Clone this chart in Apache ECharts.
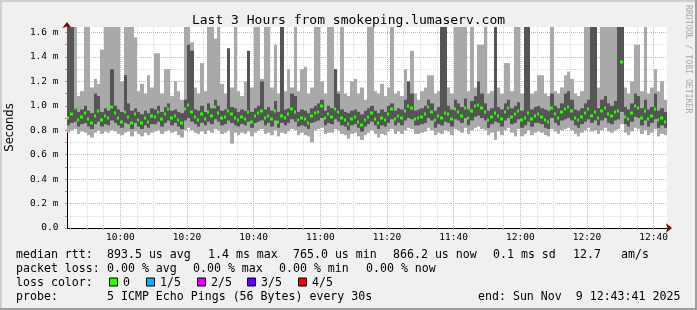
<!DOCTYPE html>
<html><head><meta charset="utf-8">
<script src="https://cdn.jsdelivr.net/npm/echarts@6/dist/echarts.min.js"></script>
<style>html,body{margin:0;padding:0;background:#f0f0f0}#c{width:697px;height:310px}</style>
</head><body><div id="c"></div>
<script>
// time axis in minutes of day: 584 = 09:44, 764 = 12:44 ; one slot per minute
const startMinute = 584;
const endMinute = 764;
const xLabelMinutes = [600, 620, 640, 660, 680, 700, 720, 740, 760];
const xTickMinutes = [585,590,595,600,605,610,615,620,625,630,635,640,645,650,655,660,665,670,675,680,685,690,695,700,705,710,715,720,725,730,735,740,745,750,755,760];
const yTicks = ['0.0','0.2 m','0.4 m','0.6 m','0.8 m','1.0 m','1.2 m','1.4 m','1.6 m'];

// ping smoke per minute (ms): max, upper, median, lower, min
const pingMax = [
1.70,1.70,1.70,1.08,1.12,1.70,1.70,1.15,1.22,1.18,
1.46,1.70,1.70,1.70,1.70,1.70,1.20,1.70,1.70,1.70,
1.56,1.12,1.18,1.10,1.25,1.15,1.43,1.43,1.10,1.30,
1.30,1.08,1.20,1.12,1.05,1.70,1.70,1.52,1.15,1.10,
1.35,1.12,1.70,1.70,1.55,1.70,1.18,1.10,1.47,1.15,
1.70,1.12,1.08,1.20,1.45,1.15,1.70,1.70,1.22,1.70,
1.70,1.15,1.50,1.10,1.70,1.12,1.30,1.15,1.70,1.12,
1.30,1.32,1.10,1.15,1.70,1.70,1.20,1.10,1.70,1.70,
1.30,1.12,1.70,1.10,1.08,1.20,1.22,1.10,1.15,1.05,
1.70,1.70,1.12,1.10,1.18,1.08,1.15,1.70,1.10,1.12,
1.08,1.30,1.12,1.45,1.10,1.05,1.12,1.15,1.25,1.25,
1.10,1.12,1.70,1.70,1.15,1.10,1.70,1.70,1.70,1.70,
1.12,1.70,1.15,1.50,1.50,1.70,1.10,1.12,1.70,1.15,
1.10,1.35,1.35,1.12,1.70,1.70,1.10,1.70,1.70,1.10,
1.12,1.25,1.25,1.10,1.08,1.70,1.12,1.10,1.15,1.25,
1.28,1.22,1.10,1.08,1.12,1.70,1.70,1.70,1.70,1.15,
1.70,1.70,1.70,1.70,1.70,1.70,1.70,1.15,1.10,1.20,
1.50,1.50,1.12,1.70,1.10,1.15,1.30,1.12,1.20,1.05];
const pingUpper = [
1.70,1.70,0.98,0.95,0.97,1.00,0.96,0.94,1.10,1.08,
0.95,0.98,0.96,1.30,1.00,0.97,0.95,1.25,1.02,0.96,
0.98,0.95,0.93,0.96,0.94,0.98,0.97,1.00,0.95,0.99,
1.02,0.96,0.97,0.95,0.94,1.05,1.50,1.45,0.97,0.96,
1.00,0.95,1.02,0.98,1.05,1.00,0.96,0.97,1.47,0.99,
0.98,0.95,0.97,0.96,1.45,0.95,0.98,1.00,1.20,0.97,
0.99,0.96,1.04,0.95,1.70,0.97,0.98,1.10,1.08,0.95,
0.97,0.96,0.94,0.98,1.00,1.02,1.05,0.96,1.00,0.98,
1.30,1.10,0.97,0.95,0.94,0.96,0.97,0.95,0.93,0.96,
0.98,1.00,0.96,0.94,0.97,0.95,1.00,1.02,0.96,0.98,
0.97,1.05,1.20,1.10,0.96,0.97,0.98,1.00,1.05,1.02,
0.96,0.99,1.70,1.70,1.00,0.97,1.05,1.02,0.99,1.06,
0.97,1.04,1.08,1.20,1.10,1.02,0.96,0.98,1.70,0.99,
0.97,1.02,1.05,0.98,1.00,1.03,0.96,1.70,1.70,0.97,
0.99,1.00,0.98,0.97,0.96,1.10,1.00,0.98,1.02,1.10,
1.12,1.05,0.97,0.96,0.98,1.02,1.05,1.70,1.70,0.98,
1.05,1.08,1.02,1.00,1.04,1.70,1.70,0.99,0.97,1.02,
1.10,1.08,0.98,1.05,0.97,0.99,1.10,0.96,0.98,0.95];
const pingMedian = [
0.90,0.93,0.98,0.88,0.91,0.94,0.89,0.86,0.92,0.96,
0.88,0.92,0.90,0.99,0.94,0.90,0.87,0.95,0.91,0.86,
0.93,0.88,0.86,0.90,0.87,0.92,0.91,0.95,0.89,0.93,
0.97,0.90,0.92,0.88,0.86,0.97,1.01,0.95,0.91,0.88,
0.93,0.89,0.95,0.92,0.99,0.94,0.90,0.91,0.96,0.93,
0.90,0.88,0.91,0.89,0.95,0.87,0.92,0.94,0.96,0.90,
0.92,0.89,0.96,0.87,0.92,0.90,0.93,0.97,0.95,0.88,
0.90,0.89,0.86,0.92,0.94,0.95,1.00,0.90,0.93,0.91,
0.97,0.95,0.90,0.88,0.85,0.89,0.91,0.87,0.84,0.88,
0.91,0.94,0.89,0.86,0.90,0.88,0.93,0.97,0.89,0.92,
0.90,0.96,1.00,0.98,0.89,0.90,0.91,0.93,0.99,0.95,
0.88,0.92,0.90,0.94,0.93,0.89,0.97,0.95,0.92,0.98,
0.90,0.96,1.00,1.01,0.98,0.95,0.88,0.91,0.94,0.92,
0.89,0.95,0.98,0.91,0.93,0.96,0.88,0.90,0.94,0.89,
0.92,0.93,0.91,0.88,0.87,0.98,0.93,0.90,0.95,0.97,
0.99,0.96,0.90,0.88,0.91,0.94,0.97,0.92,0.95,0.90,
0.96,0.98,0.93,0.92,0.95,0.96,1.36,0.91,0.89,0.94,
1.00,0.98,0.90,0.96,0.89,0.92,0.97,0.88,0.90,0.87];
const pingLower = [
0.84,0.86,0.87,0.83,0.85,0.86,0.83,0.81,0.85,0.87,
0.83,0.85,0.84,0.88,0.86,0.84,0.82,0.86,0.85,0.81,
0.86,0.83,0.81,0.84,0.82,0.85,0.85,0.87,0.83,0.86,
0.88,0.84,0.86,0.83,0.81,0.88,0.90,0.87,0.85,0.83,
0.86,0.84,0.87,0.85,0.89,0.87,0.84,0.85,0.88,0.86,
0.84,0.83,0.85,0.84,0.87,0.82,0.86,0.87,0.88,0.84,
0.86,0.83,0.88,0.82,0.86,0.84,0.86,0.89,0.87,0.83,
0.84,0.83,0.81,0.86,0.87,0.88,0.90,0.84,0.86,0.85,
0.89,0.87,0.84,0.83,0.80,0.84,0.85,0.82,0.79,0.83,
0.85,0.87,0.84,0.81,0.84,0.83,0.86,0.89,0.84,0.86,
0.84,0.88,0.90,0.89,0.84,0.84,0.85,0.86,0.90,0.88,
0.82,0.85,0.84,0.87,0.86,0.83,0.89,0.88,0.86,0.90,
0.84,0.88,0.91,0.92,0.90,0.88,0.82,0.85,0.87,0.86,
0.83,0.88,0.90,0.85,0.86,0.89,0.82,0.84,0.87,0.83,
0.86,0.86,0.85,0.82,0.81,0.90,0.86,0.84,0.88,0.89,
0.90,0.88,0.84,0.82,0.85,0.87,0.89,0.86,0.88,0.84,
0.88,0.90,0.86,0.85,0.88,0.89,0.95,0.85,0.83,0.87,
0.91,0.90,0.84,0.88,0.83,0.86,0.89,0.82,0.84,0.82];
const pingMin = [
0.78,0.80,0.81,0.77,0.79,0.78,0.76,0.74,0.78,0.80,
0.77,0.79,0.78,0.80,0.79,0.77,0.76,0.78,0.79,0.75,
0.79,0.77,0.75,0.78,0.76,0.78,0.79,0.80,0.77,0.79,
0.80,0.78,0.79,0.76,0.74,0.80,0.82,0.80,0.78,0.77,
0.79,0.77,0.80,0.78,0.81,0.80,0.77,0.78,0.80,0.69,
0.78,0.76,0.78,0.77,0.79,0.75,0.78,0.80,0.81,0.77,
0.78,0.76,0.80,0.75,0.78,0.77,0.79,0.81,0.80,0.76,
0.78,0.76,0.75,0.70,0.80,0.81,0.82,0.77,0.78,0.78,
0.81,0.80,0.77,0.76,0.73,0.77,0.78,0.75,0.72,0.76,
0.78,0.80,0.77,0.74,0.77,0.76,0.79,0.81,0.77,0.79,
0.77,0.80,0.82,0.81,0.77,0.77,0.78,0.79,0.82,0.80,
0.76,0.78,0.77,0.80,0.79,0.76,0.81,0.80,0.78,0.82,
0.77,0.80,0.82,0.83,0.81,0.80,0.76,0.78,0.72,0.79,
0.76,0.80,0.82,0.78,0.75,0.81,0.75,0.77,0.80,0.76,
0.78,0.79,0.78,0.76,0.75,0.81,0.79,0.77,0.80,0.81,
0.82,0.80,0.77,0.75,0.78,0.80,0.82,0.79,0.80,0.77,
0.80,0.82,0.79,0.78,0.80,0.81,0.85,0.78,0.76,0.79,
0.82,0.81,0.77,0.80,0.76,0.78,0.81,0.75,0.77,0.76];

// legend texts
const rttStats = ['893.5 us avg', '1.4 ms max', '765.0 us min', '866.2 us now', '0.1 ms sd', '12.7', 'am/s'];
const lossStats = ['0.00 % avg', '0.00 % max', '0.00 % min', '0.00 % now'];
const lossLabels = ['0', '1/5', '2/5', '3/5', '4/5'];
const lossColors = ['#26ff00', '#00b8ff', '#dd00ff', '#5e00ff', '#ff0000'];
const probeText = '5 ICMP Echo Pings (56 Bytes) every 30s';
const endText = 'end: Sun Nov  9 12:43:41 2025';
const titleText = 'Last 3 Hours from smokeping.lumaserv.com';

const MONO = '"DejaVu Sans Mono", monospace';
const data = pingMedian.map((m, i) => [startMinute + i + 0.5, pingMin[i], pingLower[i], m, pingUpper[i], pingMax[i]]);

const MAJ = '#eba3a3', MIN = '#d9d9d9', NONE = 'rgba(0,0,0,0)';
const xSplitColors = [];
for (let i = 0; i < 20; i++) {
  const m = (startMinute + i) % 20;
  xSplitColors.push(m === 0 ? MAJ : (m % 5 === 0 ? MIN : NONE));
}
const ySplitColors = [];
for (let i = 0; i <= 16; i++) ySplitColors.push(i % 2 === 0 ? MAJ : MIN);
ySplitColors.push(NONE);

const fmtMin = v => { const h = Math.floor(v / 60), m = Math.round(v % 60); return String(h).padStart(2,'0') + ':' + String(m).padStart(2,'0'); };

const graphic = [
  {type:'rect', shape:{x:0,y:0,width:697,height:2}, style:{fill:'#cfcfcf'}, silent:true},
  {type:'rect', shape:{x:0,y:0,width:2,height:310}, style:{fill:'#cfcfcf'}, silent:true},
  {type:'rect', shape:{x:0,y:308,width:697,height:2}, style:{fill:'#9e9e9e'}, silent:true},
  {type:'rect', shape:{x:695,y:0,width:2,height:310}, style:{fill:'#9e9e9e'}, silent:true},
  {type:'text', x:688, y:5, rotation:-Math.PI/2, style:{text:'RRDTOOL / TOBI OETIKER', fill:'#a8a8a8', font:'8.2px ' + MONO, align:'left', verticalAlign:'middle'}, silent:true}
];
const txt = (x, y, s) => ({type:'text', x:x, y:y, style:{text:s, fill:'#000', font:'11.6px ' + MONO, align:'left', verticalAlign:'middle'}, silent:true});
const L1 = 254.5, L2 = 268.5, L3 = 282.5, L4 = 297;
graphic.push(txt(16, L1, 'median rtt:'));
[107, 208, 293, 393, 493, 573, 621].forEach((x, i) => graphic.push(txt(x, L1, rttStats[i])));
graphic.push(txt(16, L2, 'packet loss:'));
[107, 193, 279, 366].forEach((x, i) => graphic.push(txt(x, L2, lossStats[i])));
graphic.push(txt(16, L3, 'loss color:'));
[109, 146, 197, 247, 298].forEach((x, i) => {
  graphic.push({type:'rect', shape:{x:x + 0.5, y:L3 - 4.5, width:8, height:8}, style:{fill:lossColors[i], stroke:'#000', lineWidth:1}, silent:true});
  graphic.push(txt(x + 14, L3, lossLabels[i]));
});
graphic.push(txt(16, L4, 'probe:'));
graphic.push(txt(107, L4, probeText));
graphic.push(txt(478, L4, endText));

const chart = echarts.init(document.getElementById('c'), null, {renderer:'canvas'});
chart.setOption({
  animation: false,
  backgroundColor: '#f0f0f0',
  title: {text: titleText, left: 'center', top: 14, padding: 0, textStyle: {fontFamily: MONO, fontSize: 13, fontWeight: 'normal', color: '#000'}},
  grid: {left: 67, right: 30, top: 27, bottom: 82, show: true, backgroundColor: '#fff', borderWidth: 0, containLabel: false, outerBoundsMode: 'none'},
  xAxis: [{
    type: 'value', min: startMinute, max: endMinute, interval: 1,
    axisLine: {show: true, lineStyle: {color: '#000', width: 1}},
    axisTick: {show: false},
    axisLabel: {margin: 5, fontFamily: MONO, fontSize: 9.5, color: '#000',
      formatter: v => xLabelMinutes.indexOf(Math.round(v)) >= 0 ? fmtMin(v) : ''},
    splitLine: {show: true, showMaxLine: false, lineStyle: {color: xSplitColors, type: [1, 1], width: 1}}
  }, {
    type: 'value', min: startMinute, max: endMinute, position: 'bottom',
    axisLine: {show: true, symbol: ['none', 'arrow'], symbolSize: [7, 6], symbolOffset: [0, 5], lineStyle: {color: '#7f0000', width: 0}},
    axisTick: {show: true, customValues: xTickMinutes, length: 2, lineStyle: {color: '#b0b0b0'}},
    axisLabel: {show: false}, splitLine: {show: false}
  }],
  yAxis: [{
    type: 'value', min: 0, max: 1.645, interval: 0.1,
    name: 'Seconds', nameLocation: 'middle', nameGap: 51, nameRotate: 90,
    nameTextStyle: {fontFamily: '"DejaVu Sans", sans-serif', fontSize: 11.5, color: '#000'},
    axisLine: {show: true, lineStyle: {color: '#000', width: 1}},
    axisTick: {show: true, length: 2, lineStyle: {color: '#c08080'}},
    axisLabel: {margin: 8.5, fontFamily: MONO, fontSize: 9.5, color: '#000',
      formatter: v => { const k = Math.round(v * 10); return (k % 2 === 0 && k <= 16) ? yTicks[k / 2] : ''; }},
    splitLine: {show: true, showMaxLine: false, lineStyle: {color: ySplitColors, type: [1, 1], width: 1}}
  }, {
    type: 'value', min: 0, max: 1.645, position: 'left',
    axisLine: {show: true, symbol: ['none', 'arrow'], symbolSize: [7, 6], symbolOffset: [0, 5], lineStyle: {color: '#7f0000', width: 0}},
    axisTick: {show: false}, axisLabel: {show: false}, splitLine: {show: false}
  }],
  graphic: graphic,
  series: [{
    type: 'custom',
    xAxisIndex: 0, yAxisIndex: 0,
    data: data,
    encode: {x: 0, y: [1, 5]},
    clip: true,
    z: 2,
    renderItem: function (params, api) {
      const cs = params.coordSys;
      const cy = y => Math.max(cs.y, Math.min(cs.y + cs.height, y));
      const t = api.value(0);
      const x0 = Math.round(api.coord([t - 0.5, 0])[0]);
      const x1 = Math.round(api.coord([t + 0.5, 0])[0]);
      const yLo = cy(api.coord([t, api.value(1)])[1]);
      const yQ1 = cy(api.coord([t, api.value(2)])[1]);
      const yMed = cy(api.coord([t, api.value(3)])[1]);
      const yQ3 = cy(api.coord([t, api.value(4)])[1]);
      const yHi = cy(api.coord([t, api.value(5)])[1]);
      return {type: 'group', children: [
        {type: 'rect', shape: {x: x0, y: yHi, width: x1 - x0, height: yLo - yHi}, style: {fill: '#a9a9a9'}},
        {type: 'rect', shape: {x: x0, y: yQ3, width: x1 - x0, height: yQ1 - yQ3}, style: {fill: '#555555'}},
        {type: 'rect', shape: {x: x0, y: Math.round(yMed) - 1.5, width: Math.max(2, x1 - x0 - 1), height: 3}, style: {fill: lossColors[0]}}
      ]};
    }
  }]
});
</script></body></html>
